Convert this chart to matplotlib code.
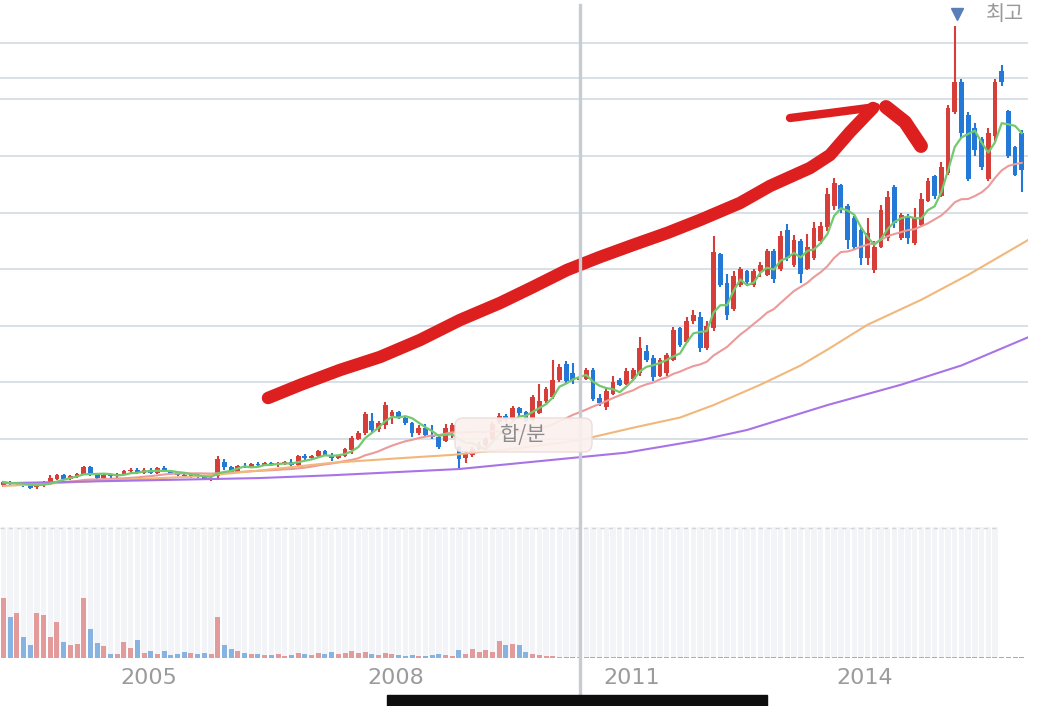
import numpy as np
import pandas as pd
import matplotlib
matplotlib.use('Agg')
import matplotlib.pyplot as plt
from matplotlib.patches import FancyBboxPatch, Rectangle
from matplotlib.lines import Line2D
from matplotlib.transforms import IdentityTransform

# monthly candles (price in thousand won)
opens = [5.9, 6.1, 6.0, 6.1, 5.9, 5.8, 5.9, 6.2, 6.5, 6.8, 6.5, 6.7, 6.9, 7.5, 6.9, 6.6, 6.8, 6.7, 6.9, 7.2,
         7.3, 7.0, 7.3, 7.0, 7.4, 7.2, 7.0, 6.8, 6.7, 6.8, 6.7, 6.5, 6.7, 8.0, 7.5, 7.1, 7.6, 7.5, 7.8, 7.7,
         7.9, 7.7, 7.9, 8.0, 7.7, 8.5, 8.3, 8.5, 8.9, 8.6, 8.3, 8.5, 9.0, 10.0, 10.5, 11.6, 10.9, 11.2, 12.0, 12.4,
         11.9, 11.4, 10.5, 11.0, 10.4, 10.2, 9.8, 10.6, 9.3, 8.3, 8.6, 9.1, 9.5, 10.0, 11.5, 12.0, 11.7, 12.7, 12.4, 11.7,
         12.3, 13.4, 13.7, 15.2, 16.6, 15.8, 15.2, 15.3, 16.1, 13.6, 12.8, 14.0, 15.2, 14.9, 15.3, 15.8, 17.8, 17.2, 15.6, 15.8,
         17.0, 19.8, 18.6, 20.4, 20.8, 18.0, 19.8, 26.3, 23.8, 21.5, 23.6, 24.8, 23.6, 24.8, 24.5, 26.6, 25.0, 28.5, 25.4, 27.5,
         25.0, 26.0, 27.5, 28.7, 30.6, 32.4, 30.6, 29.5, 28.5, 26.0, 24.9, 27.0, 27.8, 32.3, 27.8, 29.7, 27.3, 28.9, 31.0, 33.2,
         31.5, 33.5, 38.9, 41.5, 38.6, 37.5, 36.5, 33.0, 36.8, 42.5, 39.0, 35.8, 37.0]
highs = [6.3, 6.3, 6.2, 6.2, 6.0, 6.0, 6.3, 6.8, 6.9, 6.9, 6.8, 7.0, 7.6, 7.6, 7.0, 6.9, 6.9, 7.0, 7.3, 7.4,
         7.4, 7.4, 7.4, 7.5, 7.6, 7.3, 7.1, 6.9, 6.9, 6.9, 6.8, 6.7, 8.5, 8.2, 7.6, 7.7, 7.9, 7.9, 8.0, 8.0,
         8.0, 8.0, 8.1, 8.2, 8.6, 8.7, 8.6, 9.0, 9.0, 8.8, 8.6, 9.2, 10.3, 10.7, 12.4, 12.3, 11.6, 13.3, 12.6, 12.5,
         12.0, 11.5, 11.2, 11.3, 11.2, 10.3, 11.3, 11.4, 9.4, 8.9, 9.3, 9.7, 10.2, 11.5, 12.3, 12.2, 12.9, 12.8, 12.5, 13.9,
         14.9, 14.6, 17.0, 16.6, 16.9, 16.7, 15.8, 16.3, 16.3, 14.0, 14.6, 15.6, 15.4, 16.3, 16.3, 19.0, 18.3, 17.4, 17.2, 17.6,
         19.9, 19.9, 20.8, 21.4, 21.2, 20.4, 27.9, 26.4, 24.6, 24.8, 25.2, 24.9, 25.0, 25.6, 26.8, 26.8, 28.4, 29.0, 28.0, 27.7,
         28.1, 29.2, 29.2, 32.2, 33.1, 32.5, 30.8, 29.7, 28.7, 29.5, 27.5, 30.7, 31.9, 32.4, 30.0, 29.9, 30.4, 31.7, 33.1, 33.3,
         34.5, 39.5, 46.5, 41.8, 38.9, 37.9, 36.7, 37.5, 41.8, 43.0, 39.1, 35.9, 37.3]
lows = [5.8, 5.9, 5.9, 5.8, 5.6, 5.6, 5.8, 6.1, 6.4, 6.4, 6.4, 6.6, 6.8, 6.7, 6.5, 6.5, 6.6, 6.6, 6.8, 7.0,
        6.9, 6.9, 6.9, 6.9, 7.1, 6.9, 6.7, 6.6, 6.6, 6.6, 6.4, 6.3, 6.4, 7.3, 6.9, 7.0, 7.4, 7.4, 7.6, 7.6,
        7.6, 7.5, 7.7, 7.6, 7.6, 8.1, 8.2, 8.4, 8.5, 8.1, 8.2, 8.4, 8.7, 9.9, 10.4, 10.5, 10.6, 10.9, 11.3, 11.8,
        11.2, 10.2, 10.4, 10.2, 10.0, 9.1, 9.7, 10.1, 7.3, 7.9, 8.4, 9.0, 9.3, 9.9, 11.3, 11.5, 11.5, 12.0, 11.5, 11.6,
        12.2, 13.2, 13.5, 15.0, 14.9, 14.9, 14.8, 15.2, 13.4, 12.9, 12.6, 13.9, 14.7, 14.8, 15.1, 15.6, 16.8, 15.1, 15.5, 15.6,
        16.9, 18.1, 18.5, 20.2, 17.7, 17.9, 19.5, 23.4, 20.5, 21.3, 23.4, 23.7, 23.4, 24.3, 24.4, 23.8, 24.8, 25.7, 25.2, 23.8,
        24.9, 25.8, 27.2, 28.4, 30.2, 30.0, 26.8, 26.7, 25.4, 25.4, 24.7, 26.9, 27.5, 28.6, 27.6, 27.2, 27.1, 28.7, 30.9, 31.2,
        31.4, 33.3, 38.7, 36.5, 32.8, 35.0, 33.8, 32.8, 36.3, 41.2, 34.8, 33.2, 31.8]
closes = [6.2, 6.0, 6.1, 5.9, 5.7, 5.9, 6.2, 6.6, 6.8, 6.5, 6.7, 6.9, 7.5, 6.9, 6.6, 6.8, 6.7, 6.9, 7.2, 7.3,
          7.0, 7.3, 7.0, 7.4, 7.2, 7.0, 6.8, 6.7, 6.8, 6.7, 6.5, 6.6, 8.2, 7.5, 7.1, 7.6, 7.5, 7.8, 7.7, 7.9,
          7.7, 7.9, 8.0, 7.7, 8.5, 8.3, 8.5, 8.9, 8.6, 8.3, 8.5, 9.1, 10.1, 10.5, 12.2, 10.8, 11.4, 13.0, 12.4, 11.9,
          11.4, 10.5, 11.0, 10.4, 10.2, 9.3, 11.0, 11.2, 8.2, 8.7, 9.1, 9.5, 10.0, 11.3, 12.0, 11.7, 12.7, 12.3, 11.6, 13.7,
          13.4, 14.4, 15.2, 16.4, 15.1, 15.2, 15.5, 16.1, 13.5, 13.2, 14.2, 15.0, 14.8, 16.0, 16.1, 18.0, 17.0, 15.5, 17.0, 17.4,
          19.6, 18.3, 20.4, 21.0, 18.0, 20.0, 26.5, 23.6, 21.0, 24.4, 25.0, 23.9, 24.8, 25.4, 26.6, 24.1, 27.9, 26.0, 27.6, 24.6,
          27.0, 28.6, 28.8, 31.6, 32.6, 30.3, 27.6, 27.0, 26.0, 28.2, 27.0, 30.2, 31.4, 29.1, 29.8, 27.8, 29.5, 31.2, 32.8, 31.5,
          34.0, 39.2, 41.5, 37.0, 33.0, 35.5, 34.0, 37.0, 41.5, 41.5, 35.0, 33.3, 33.8]
volumes = [600, 410, 450, 210, 130, 450, 430, 210, 360, 160, 130, 140, 600, 290, 150, 120, 40, 40, 160, 100,
           180, 50, 70, 40, 70, 30, 40, 60, 50, 40, 50, 40, 410, 130, 90, 70, 50, 40, 40, 30,
           30, 40, 20, 30, 50, 40, 30, 50, 40, 60, 40, 50, 70, 50, 60, 40, 30, 50, 40, 30,
           20, 30, 20, 20, 30, 40, 30, 20, 80, 40, 90, 60, 80, 60, 170, 130, 140, 130, 60, 40,
           30, 20, 20, 15, 15, 10, 10, 8, 10, 8, 6, 8, 10, 8, 12, 10, 8, 6, 8, 10,
           8, 6, 10, 8, 6, 8, 12, 10, 8, 6, 8, 6, 8, 10, 8, 6, 8, 10, 8, 6,
           8, 6, 8, 10, 8, 6, 8, 6, 8, 10, 8, 6, 8, 6, 8, 6, 8, 10, 8, 6,
           8, 10, 12, 8, 6, 8, 6, 8, 10, 8, 6, 8, 6]

# long moving averages
ma60_idx = [0, 14, 29, 38, 49, 59, 67, 77, 86, 94, 101, 106, 113, 119, 123, 129, 137, 144, 153]
ma60_val = [5.85, 6.3, 6.7, 7.2, 7.9, 8.3, 8.6, 9.2, 9.9, 11.0, 11.9, 13.0, 14.8, 16.5, 17.9, 20.1, 22.3, 24.5, 27.6]
ma120_idx = [0, 38, 49, 68, 93, 104, 111, 123, 134, 143, 153]
ma120_val = [6.1, 6.55, 6.8, 7.35, 8.8, 9.9, 10.8, 13.0, 14.8, 16.5, 19.0]

year_labels = ['2005', '2008', '2011', '2014']
year_pos = [21.7, 58.6, 93.8, 128.6]
grid_levels = [10, 15, 20, 25, 30, 35, 40, 41.9, 45]
cross_idx = 86

RED = '#d63e3a'
BLUE = '#2478d6'
cjk = ['Noto Sans CJK KR', 'DejaVu Sans']

o = np.array(opens); h = np.array(highs); l = np.array(lows); c = np.array(closes)
idx = np.arange(len(c))
up = c >= o
colors = np.where(up, RED, BLUE)

fig = plt.figure(figsize=(10.52, 7.06), dpi=100)
ax = fig.add_axes([0, 1 - 527 / 706, 1028 / 1052, 527 / 706])
axv = fig.add_axes([0, 48 / 706, 1028 / 1052, 131 / 706])

xlim = (-0.5, 1028 / 6.7 - 0.5)

# price pane
for lv in grid_levels:
    ax.axhline(lv, color='#d3dae3', lw=1.2, zorder=0)
body_h = np.maximum(np.abs(c - o), 0.08)
ax.vlines(idx, l, h, colors=colors, lw=1.5, zorder=2)
ax.bar(idx, body_h, bottom=np.minimum(o, c), width=0.72, color=colors, zorder=3)

s = pd.Series(c)
ax.plot(idx, s.rolling(20, min_periods=1).mean(), color='#ec9a9a', lw=1.5, zorder=4)
ax.plot(ma60_idx, ma60_val, color='#f2b77a', lw=1.5, zorder=4)
ax.plot(ma120_idx, ma120_val, color='#a873e6', lw=1.5, zorder=4)
ax.plot(idx, s.rolling(5, min_periods=1).mean(), color='#72c96e', lw=1.6, zorder=4)

ax.set_xlim(xlim)
ax.set_ylim(2.23, 48.78)
ax.axis('off')

# highest marker
imax = int(np.argmax(h))
ax.plot([imax + 0.4], [1 - 14 / 527], marker='v', ms=9, color='#5b7db8',
        transform=ax.get_xaxis_transform(), clip_on=False, zorder=6)
ax.text(986 / 1028, 1 - 14 / 527, '최고', transform=ax.transAxes, va='center', ha='left',
        fontsize=15, color='#9a9a9a', family=cjk, clip_on=True)

# hand drawn red arrow (pixel coords of the screenshot -> axes fraction)
def px(pts):
    return [p[0] / 1028 for p in pts], [1 - p[1] / 527 for p in pts]

stroke = [(268, 398), (300, 385), (340, 370), (380, 357), (420, 340), (460, 320), (500, 303), (533, 287),
          (567, 270), (600, 257), (633, 245), (667, 233), (700, 220), (740, 203), (770, 186), (810, 168),
          (830, 155), (850, 132), (873, 108)]
top = [(790, 118), (830, 113), (876, 107)]
barb = [(886, 107), (905, 122), (921, 146)]
for pts, w in [(stroke, 9), (top, 6), (barb, 10)]:
    xs, ys = px(pts)
    ax.plot(xs, ys, color='#de1f1f', lw=w, transform=ax.transAxes, solid_capstyle='round',
            solid_joinstyle='round', zorder=7, clip_on=False)

# volume pane
stripe_n = int((1000 - 3.35) / 6.7) + 1
axv.bar(idx[:stripe_n], 1310, width=0.8, color='#f2f4f8', zorder=0)
vol_colors = np.where(up, '#e39a9a', '#86b3e2')
axv.bar(idx, volumes, width=0.75, color=vol_colors, zorder=2)
axv.axhline(1305, xmax=1000 / 1028, color='#d5d5d5', lw=1, ls=(0, (3, 3)), zorder=1)
axv.set_xlim(xlim)
axv.set_ylim(0, 1310)
for sp in axv.spines.values():
    sp.set_visible(False)
axv.set_yticks([])
axv.set_xticks(year_pos)
axv.set_xticklabels(year_labels, fontsize=16, color='#9b9b9b')
axv.tick_params(axis='x', length=0, pad=7)

# crosshair
fig.canvas.draw()
xd = ax.transData.transform((cross_idx, 0))[0]
xf = fig.transFigure.inverted().transform((xd, 0))[0]
fig.add_artist(Line2D([xf, xf], [0, 1 - 5 / 706], transform=fig.transFigure, color='#c7cbd2', lw=2.4, zorder=2))

# crosshair label box
box = FancyBboxPatch((455, 706 - 452), 137, 34, boxstyle='round,pad=0,rounding_size=8',
                     transform=IdentityTransform(), facecolor='#fbf1ee', edgecolor='#eadcd8',
                     lw=1, alpha=0.92, zorder=3)
fig.add_artist(box)
fig.text(523.5 / 1052, 1 - 435 / 706, '합/분', ha='center', va='center', fontsize=15,
         color='#8c8c8c', family=cjk, zorder=4)

# bottom bar of the screenshot UI
fig.add_artist(Rectangle((387 / 1052, 0), (767 - 387) / 1052, 11 / 706, transform=fig.transFigure,
                         color='#0e0e0e', zorder=5))

fig.savefig('out.png', dpi=100)
